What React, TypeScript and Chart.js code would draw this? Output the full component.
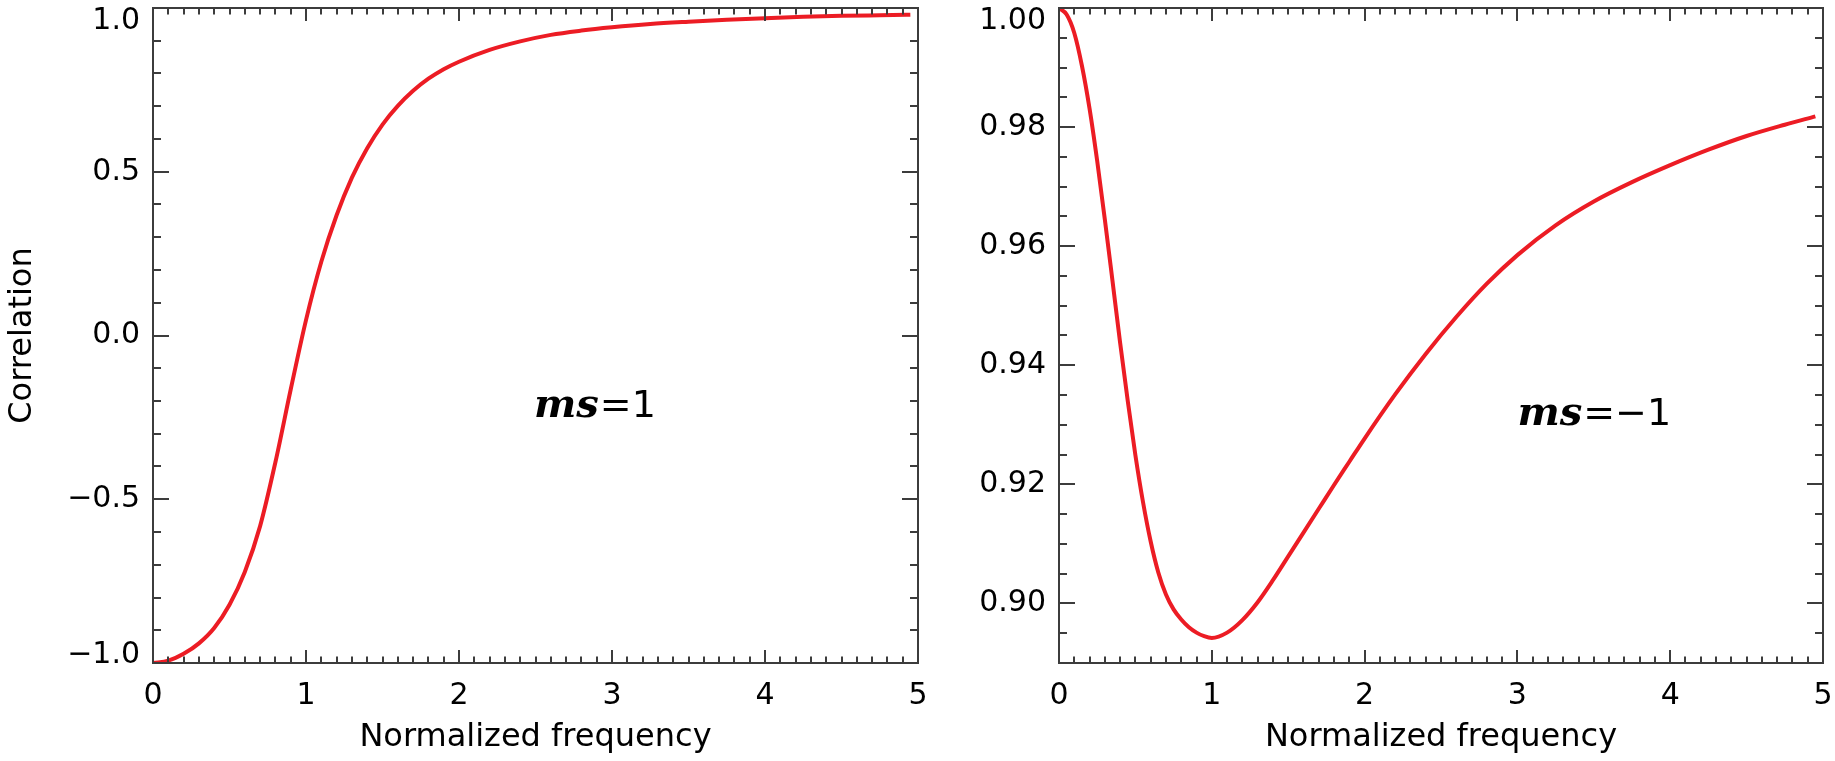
import { useEffect, useRef } from "react";
import { Chart, registerables } from "chart.js";

Chart.register(...registerables);

// left panel (ms = 1)
const freqLeft = [
  0, 0.1, 0.2, 0.3, 0.4, 0.5, 0.6, 0.7, 0.8, 0.9, 1.0, 1.1, 1.2, 1.3, 1.4, 1.5,
  1.6, 1.7, 1.8, 1.9, 2.0, 2.2, 2.4, 2.6, 2.8, 3.0, 3.25, 3.5, 3.75, 4.0, 4.25,
  4.5, 4.75, 4.95,
];
const corrLeft = [
  -1.0, -0.993, -0.972, -0.94, -0.893, -0.822, -0.722, -0.582, -0.387, -0.165,
  0.047, 0.225, 0.367, 0.482, 0.572, 0.644, 0.701, 0.747, 0.784, 0.813, 0.836,
  0.872, 0.898, 0.918, 0.931, 0.941, 0.951, 0.958, 0.964, 0.969, 0.973, 0.976,
  0.978, 0.9795,
];

// right panel (ms = -1)
const freqRight = [
  0, 0.05, 0.1, 0.15, 0.2, 0.25, 0.3, 0.35, 0.4, 0.45, 0.5, 0.55, 0.6, 0.65,
  0.7, 0.75, 0.8, 0.85, 0.9, 0.95, 1.0, 1.1, 1.2, 1.3, 1.4, 1.5, 1.6, 1.7, 1.8,
  1.9, 2.0, 2.2, 2.4, 2.6, 2.8, 3.0, 3.25, 3.5, 3.75, 4.0, 4.25, 4.5, 4.75,
  4.95,
];
const corrRight = [
  1.0, 0.9989, 0.9958, 0.9903, 0.9831, 0.9743, 0.9645, 0.9542, 0.9438, 0.934,
  0.9249, 0.917, 0.9104, 0.9052, 0.9015, 0.899, 0.8973, 0.896, 0.8951, 0.8945,
  0.8942, 0.8951, 0.8972, 0.9002, 0.9039, 0.9079, 0.9119, 0.9159, 0.9199,
  0.9238, 0.9277, 0.9351, 0.9419, 0.9481, 0.9537, 0.9585, 0.9635, 0.9675,
  0.97075, 0.9736, 0.9762, 0.9785, 0.9804, 0.9818,
];

const xTicks = [0, 1, 2, 3, 4, 5];
const xTickLabels = ["0", "1", "2", "3", "4", "5"];
const yTicksLeft = [1, 0.5, 0, -0.5, -1];
const yTickLabelsLeft = ["1.0", "0.5", "0.0", "\u22120.5", "\u22121.0"];
const yTicksRight = [1.0, 0.98, 0.96, 0.94, 0.92, 0.9];
const yTickLabelsRight = ["1.00", "0.98", "0.96", "0.94", "0.92", "0.90"];

const xTitle = "Normalized frequency";
const yTitle = "Correlation";

const LINE_RED = "#ec1c24";
const AXIS = "#3c3c3c";
const FONT = '"DejaVu Sans", sans-serif';

type Panel = {
  freq: number[];
  corr: number[];
  yMin: number;
  yMax: number;
  yTicks: number[];
  yLabels: string[];
  yMinor: number;
  yMajor: number;
  yTitle?: string;
  note: { x: number; y: number; sign: string };
  padding: { left: number; right: number; top: number; bottom: number };
  width: number;
};

const leftPanel: Panel = {
  freq: freqLeft,
  corr: corrLeft,
  yMin: -1,
  yMax: 1,
  yTicks: yTicksLeft,
  yLabels: yTickLabelsLeft,
  yMinor: 0.1,
  yMajor: 0.5,
  yTitle,
  note: { x: 2.49, y: -0.249, sign: "=1" },
  padding: { left: 153, right: 42, top: 8, bottom: 98 },
  width: 960,
};

const rightPanel: Panel = {
  freq: freqRight,
  corr: corrRight,
  yMin: 0.89,
  yMax: 1.0,
  yTicks: yTicksRight,
  yLabels: yTickLabelsRight,
  yMinor: 0.005,
  yMajor: 0.02,
  note: { x: 3.0, y: 0.93, sign: "=\u22121" },
  padding: { left: 99, right: 12, top: 8, bottom: 98 },
  width: 875,
};

const isMultiple = (v: number, step: number) =>
  Math.abs(v / step - Math.round(v / step)) < 1e-6;

function framePlugin(p: Panel) {
  return {
    id: "idlFrame",
    afterDatasetsDraw(chart: Chart) {
      const { ctx, chartArea: a, scales } = chart;
      const xs = scales.x;
      const ys = scales.y;
      ctx.save();

      // frame + ticks on all four sides, pointing inward
      ctx.strokeStyle = AXIS;
      ctx.lineWidth = 2;
      ctx.strokeRect(a.left, a.top, a.right - a.left, a.bottom - a.top);
      ctx.beginPath();
      for (let i = 0; i <= 50; i++) {
        const px = Math.round(xs.getPixelForValue(i * 0.1));
        const len = i % 10 === 0 ? 13 : 6.5;
        ctx.moveTo(px, a.bottom);
        ctx.lineTo(px, a.bottom - len);
        ctx.moveTo(px, a.top);
        ctx.lineTo(px, a.top + len);
      }
      const n = Math.round((p.yMax - p.yMin) / p.yMinor);
      for (let i = 0; i <= n; i++) {
        const v = p.yMin + i * p.yMinor;
        const py = Math.round(ys.getPixelForValue(v));
        const len = isMultiple(v, p.yMajor) ? 16 : 8;
        ctx.moveTo(a.left, py);
        ctx.lineTo(a.left + len, py);
        ctx.moveTo(a.right, py);
        ctx.lineTo(a.right - len, py);
      }
      ctx.stroke();

      // tick labels
      ctx.fillStyle = "#000";
      ctx.font = `30px ${FONT}`;
      ctx.textAlign = "center";
      ctx.textBaseline = "middle";
      xTicks.forEach((v, i) => {
        ctx.fillText(xTickLabels[i], xs.getPixelForValue(v), a.bottom + 33);
      });
      ctx.textAlign = "right";
      p.yTicks.forEach((v, i) => {
        let py = ys.getPixelForValue(v);
        py = Math.min(Math.max(py, a.top + 13), a.bottom - 8);
        ctx.fillText(p.yLabels[i], a.left - 13, py);
      });

      // axis titles
      ctx.font = `32px ${FONT}`;
      ctx.textAlign = "center";
      ctx.fillText(xTitle, (a.left + a.right) / 2, a.bottom + 75);
      if (p.yTitle) {
        ctx.save();
        ctx.translate(23, (a.top + a.bottom) / 2);
        ctx.rotate(-Math.PI / 2);
        ctx.fillText(p.yTitle, 0, 0);
        ctx.restore();
      }

      // annotation "ms=..."
      const nx = xs.getPixelForValue(p.note.x);
      const ny = ys.getPixelForValue(p.note.y);
      ctx.textAlign = "left";
      ctx.textBaseline = "alphabetic";
      ctx.font = `italic bold 40px "DejaVu Serif", serif`;
      ctx.fillText("ms", nx, ny);
      const w = ctx.measureText("ms").width;
      ctx.font = `38px ${FONT}`;
      ctx.fillText(p.note.sign, nx + w + 1, ny);

      ctx.restore();
    },
  };
}

function PanelChart({ p, left }: { p: Panel; left: number }) {
  const canvasRef = useRef<HTMLCanvasElement>(null);

  useEffect(() => {
    if (!canvasRef.current) return;

    const chart = new Chart(canvasRef.current, {
      type: "line",
      data: {
        datasets: [
          {
            data: p.freq.map((f, i) => ({ x: f, y: p.corr[i] })),
            borderColor: LINE_RED,
            borderWidth: 4,
            pointRadius: 0,
            cubicInterpolationMode: "monotone",
            fill: false,
          },
        ],
      },
      options: {
        responsive: false,
        animation: false,
        devicePixelRatio: 1,
        layout: { padding: p.padding },
        plugins: {
          legend: { display: false },
          tooltip: { enabled: false },
        },
        scales: {
          x: { type: "linear", min: 0, max: 5, display: false },
          y: { type: "linear", min: p.yMin, max: p.yMax, display: false },
        },
      },
      plugins: [framePlugin(p)],
    });

    return () => chart.destroy();
  }, [p]);

  return (
    <canvas
      ref={canvasRef}
      width={p.width}
      height={761}
      style={{ position: "absolute", left, top: 0 }}
    />
  );
}

export default function App() {
  return (
    <div
      style={{
        position: "fixed",
        left: 0,
        top: 0,
        width: 1835,
        height: 761,
        background: "#fff",
      }}
    >
      <PanelChart p={leftPanel} left={0} />
      <PanelChart p={rightPanel} left={960} />
    </div>
  );
}
